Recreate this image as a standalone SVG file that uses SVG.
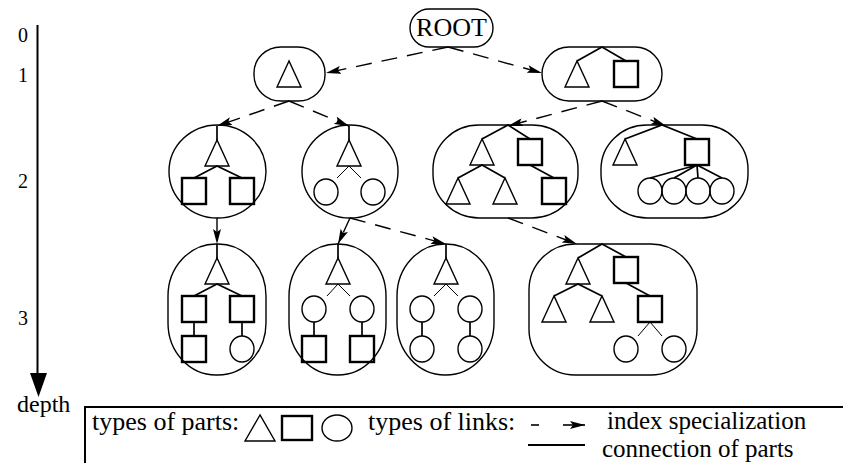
<svg xmlns="http://www.w3.org/2000/svg" xmlns:xlink="http://www.w3.org/1999/xlink" width="843" height="463" viewBox="0 0 843 463">
  <style>
    .txt { font-family: "Liberation Serif", "Times New Roman", serif; fill: #000; }
    .lbl { font-size: 26px; }
    .lbl2 { font-size: 25px; }
    .dig { font-size: 20px; text-anchor: middle; }
    .node { fill: none; stroke: #000; stroke-width: 1.4; }
    .tri { fill: none; stroke: #000; stroke-width: 1.4; stroke-linejoin: miter; }
    .sq { fill: none; stroke: #000; stroke-width: 2.4; }
    .cir { fill: none; stroke: #000; stroke-width: 1.4; }
    .lk { stroke: #000; stroke-width: 1.7; fill: none; }
    .thin { stroke: #000; stroke-width: 1; fill: none; }
    .spec { stroke: #000; stroke-width: 1.4; fill: none; stroke-dasharray: 16 10; marker-end: url(#arrow); }
  </style>
  <defs>
    <marker id="arrow" markerUnits="userSpaceOnUse" viewBox="0 0 15 8" refX="15" refY="4" markerWidth="15" markerHeight="8" orient="auto">
      <path d="M0,0 L15,4 L0,8 L3,4 z" fill="#000"/>
    </marker>
    <!-- part glyphs, anchored at their top centre -->
    <polygon id="tri" class="tri" points="0,0 -12,26 12,26"/>
    <rect id="sq" class="sq" x="-12" y="0" width="24" height="26"/>
    <ellipse id="cir" class="cir" cx="0" cy="13" rx="12" ry="13"/>
  </defs>

  <rect width="843" height="463" fill="#fff"/>

  <!-- depth axis -->
  <g id="depth-axis">
    <line x1="37.5" y1="25" x2="37.5" y2="376" stroke="#000" stroke-width="2"/>
    <polygon points="30,373 47,373 38.5,397" fill="#000"/>
    <text class="txt dig" x="23" y="42">0</text>
    <text class="txt dig" x="23" y="82">1</text>
    <text class="txt dig" x="23" y="188">2</text>
    <text class="txt dig" x="23" y="325">3</text>
    <text class="txt" x="17" y="412" font-size="24">depth</text>
  </g>

  <!-- index specialization links -->
  <g id="connectors">
    <line class="spec" x1="448" y1="47" x2="326" y2="73"/>
    <line class="spec" x1="448" y1="47" x2="542" y2="73"/>
    <line class="spec" x1="289" y1="101" x2="217" y2="126"/>
    <line class="spec" x1="289" y1="101" x2="349" y2="126"/>
    <line class="spec" x1="602" y1="101" x2="508" y2="126"/>
    <line class="spec" x1="602" y1="101" x2="666" y2="126"/>
    <line class="spec" x1="217" y1="218" x2="217" y2="244"/>
    <line class="spec" x1="350" y1="218" x2="338" y2="244"/>
    <line class="spec" x1="350" y1="218" x2="446" y2="244"/>
    <line class="spec" x1="508" y1="218" x2="577" y2="244"/>
  </g>

  <!-- depth 0 -->
  <g id="root">
    <rect class="node" x="410" y="9" width="83" height="38" rx="19" ry="19"/>
    <text class="txt lbl" x="451.5" y="36" text-anchor="middle">ROOT</text>
  </g>

  <!-- depth 1 -->
  <g id="n1a">
    <rect class="node" x="254" y="47" width="71" height="54" rx="27" ry="26"/>
    <use xlink:href="#tri" x="289" y="61"/>
  </g>
  <g id="n1b">
    <rect class="node" x="542" y="47" width="120" height="54" rx="27" ry="27"/>
    <path class="lk" d="M577,61 L602,47 L626,61"/>
    <use xlink:href="#tri" x="577" y="61"/>
    <use xlink:href="#sq" x="626" y="61"/>
  </g>

  <!-- depth 2 -->
  <g id="n2a">
    <ellipse class="node" cx="217.5" cy="171.5" rx="48.5" ry="46.5"/>
    <line class="lk" x1="217" y1="126" x2="217" y2="140"/>
    <path class="lk" d="M194,178 L217,166 L242,178"/>
    <use xlink:href="#tri" x="217" y="140"/>
    <use xlink:href="#sq" x="194" y="178"/>
    <use xlink:href="#sq" x="242" y="178"/>
  </g>
  <g id="n2b">
    <ellipse class="node" cx="350" cy="171.5" rx="48" ry="46.5"/>
    <line class="lk" x1="349" y1="126" x2="349" y2="140"/>
    <path class="thin" d="M337,178 L349,166 L361,178"/>
    <use xlink:href="#tri" x="349" y="140"/>
    <use xlink:href="#cir" x="326" y="179"/>
    <use xlink:href="#cir" x="373" y="179"/>
  </g>
  <g id="n2c">
    <rect class="node" x="433" y="125" width="145" height="93" rx="46" ry="44"/>
    <path class="lk" d="M482,139 L508,125 L530,139"/>
    <path class="lk" d="M458,178 L482,165 L505,178"/>
    <line class="lk" x1="530" y1="165" x2="554" y2="178"/>
    <use xlink:href="#tri" x="482" y="139"/>
    <use xlink:href="#sq" x="530" y="139"/>
    <use xlink:href="#tri" x="458" y="178"/>
    <use xlink:href="#tri" x="505" y="178"/>
    <use xlink:href="#sq" x="554" y="178"/>
  </g>
  <g id="n2d">
    <rect class="node" x="601" y="125" width="147" height="93" rx="46" ry="44"/>
    <path class="lk" d="M625,139 L662,125 L697,139"/>
    <path class="lk" d="M650,178 L697,165 L674,178 M697,165 L698,178 M697,165 L722,178"/>
    <use xlink:href="#tri" x="625" y="139"/>
    <use xlink:href="#sq" x="697" y="139"/>
    <use xlink:href="#cir" x="650" y="178"/>
    <use xlink:href="#cir" x="674" y="178"/>
    <use xlink:href="#cir" x="698" y="178"/>
    <use xlink:href="#cir" x="722" y="178"/>
  </g>

  <!-- depth 3 -->
  <g id="n3a">
    <rect class="node" x="168" y="244" width="98" height="131" rx="48" ry="52"/>
    <line class="lk" x1="217" y1="244" x2="217" y2="258"/>
    <path class="lk" d="M194,296 L217,284 L242,296"/>
    <line class="lk" x1="194" y1="322" x2="194" y2="336"/>
    <line class="lk" x1="242" y1="322" x2="242" y2="336"/>
    <use xlink:href="#tri" x="217" y="258"/>
    <use xlink:href="#sq" x="194" y="296"/>
    <use xlink:href="#sq" x="242" y="296"/>
    <use xlink:href="#sq" x="194" y="336"/>
    <use xlink:href="#cir" x="242" y="336"/>
  </g>
  <g id="n3b">
    <rect class="node" x="289" y="244" width="97" height="131" rx="48" ry="52"/>
    <line class="lk" x1="338" y1="244" x2="338" y2="258"/>
    <path class="thin" d="M327,296 L338,284 L350,296"/>
    <line class="lk" x1="314" y1="322" x2="314" y2="336"/>
    <line class="lk" x1="362" y1="322" x2="362" y2="336"/>
    <use xlink:href="#tri" x="338" y="258"/>
    <use xlink:href="#cir" x="314" y="296"/>
    <use xlink:href="#cir" x="362" y="296"/>
    <use xlink:href="#sq" x="314" y="336"/>
    <use xlink:href="#sq" x="362" y="336"/>
  </g>
  <g id="n3c">
    <rect class="node" x="397" y="244" width="97" height="131" rx="48" ry="52"/>
    <line class="lk" x1="446" y1="244" x2="446" y2="258"/>
    <path class="thin" d="M434,296 L446,284 L458,296"/>
    <line class="lk" x1="422" y1="322" x2="422" y2="336"/>
    <line class="lk" x1="470" y1="322" x2="470" y2="336"/>
    <use xlink:href="#tri" x="446" y="258"/>
    <use xlink:href="#cir" x="422" y="296"/>
    <use xlink:href="#cir" x="470" y="296"/>
    <use xlink:href="#cir" x="422" y="336"/>
    <use xlink:href="#cir" x="470" y="336"/>
  </g>
  <g id="n3d">
    <rect class="node" x="529" y="244" width="168" height="131" rx="46" ry="46"/>
    <path class="lk" d="M578,258 L602,244 L626,257"/>
    <path class="lk" d="M554,296 L578,284 L602,296"/>
    <line class="lk" x1="626" y1="283" x2="650" y2="296"/>
    <path class="thin" d="M638,336 L650,322 L662,336"/>
    <use xlink:href="#tri" x="578" y="258"/>
    <use xlink:href="#sq" x="626" y="257"/>
    <use xlink:href="#tri" x="554" y="296"/>
    <use xlink:href="#tri" x="602" y="296"/>
    <use xlink:href="#sq" x="650" y="296"/>
    <use xlink:href="#cir" x="626" y="336"/>
    <use xlink:href="#cir" x="674" y="336"/>
  </g>

  <!-- legend -->
  <g id="legend">
    <path d="M85,463 V407 H843" fill="none" stroke="#000" stroke-width="2"/>
    <text class="txt lbl" x="92" y="430">types of parts:</text>
    <polygon class="tri" points="260,415 245,441 275,441"/>
    <rect class="sq" x="282" y="416" width="30" height="24"/>
    <ellipse class="cir" cx="337" cy="428" rx="15" ry="13"/>
    <text class="txt lbl" x="368" y="430">types of links:</text>
    <line x1="531" y1="425" x2="539" y2="425" stroke="#000" stroke-width="1.6"/>
    <line x1="563" y1="425" x2="585" y2="425" stroke="#000" stroke-width="1.6" marker-end="url(#arrow)"/>
    <text class="txt lbl2" x="607" y="429">index specialization</text>
    <line x1="528" y1="445" x2="585" y2="445" stroke="#000" stroke-width="2"/>
    <text class="txt lbl2" x="602" y="457">connection of parts</text>
  </g>
</svg>
